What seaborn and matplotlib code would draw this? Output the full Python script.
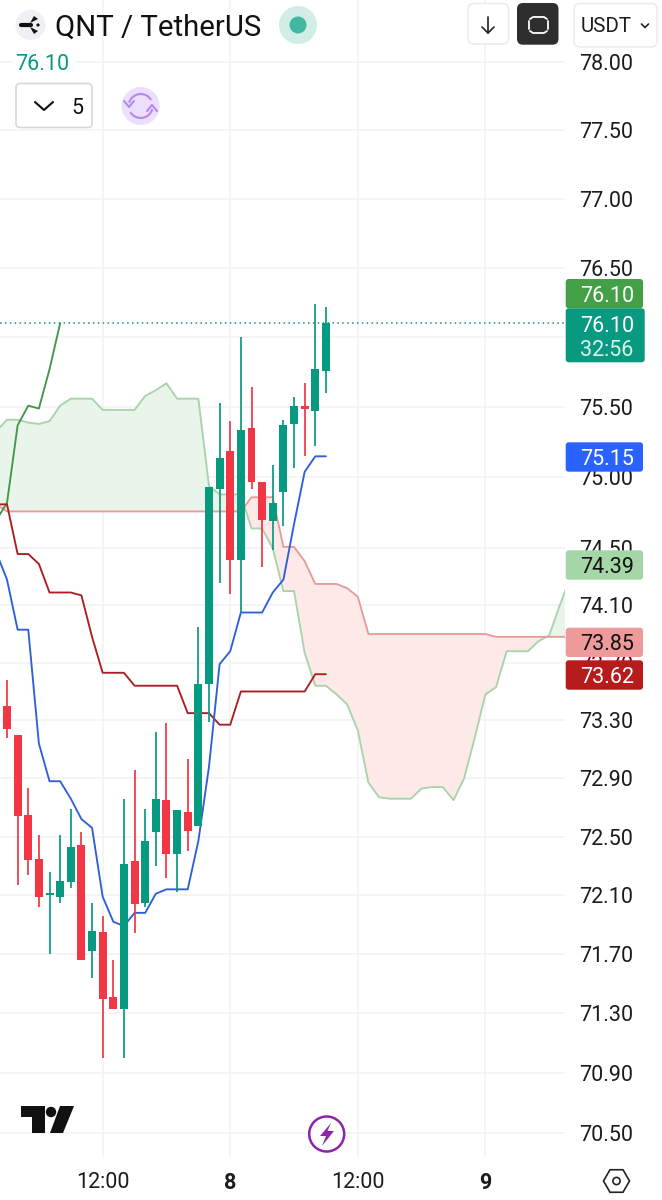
import numpy as np
import pandas as pd
import seaborn as sns
import matplotlib.pyplot as plt
from matplotlib.patches import FancyBboxPatch, Circle, Arc, Polygon, RegularPolygon

# hourly candles, first one sits at index 0
opens = [73.40, 73.20, 72.65, 72.35, 72.10, 72.09, 72.19, 72.44, 71.72, 71.85, 71.41, 71.33, 72.33, 72.05, 72.53, 72.75,
         72.38, 72.67, 72.57, 73.55, 74.92, 75.19, 74.42, 75.35, 74.97, 74.69, 74.90, 75.38, 75.51, 75.47, 75.76]
highs = [73.58, 73.20, 72.83, 72.51, 72.26, 72.51, 72.69, 72.53, 72.05, 71.96, 71.66, 72.76, 72.96, 72.69, 73.22, 73.28,
         72.68, 73.03, 73.95, 74.93, 75.53, 75.40, 76.00, 75.64, 74.97, 75.09, 75.41, 75.57, 75.67, 76.24, 76.22]
lows = [73.18, 72.17, 72.24, 72.02, 71.70, 72.05, 72.15, 71.66, 71.54, 71.00, 71.33, 71.00, 71.84, 72.02, 72.30, 72.22,
        72.12, 72.40, 72.57, 73.29, 74.26, 74.18, 74.05, 74.92, 74.37, 74.49, 74.66, 75.07, 75.15, 75.22, 75.60]
closes = [73.24, 72.64, 72.34, 72.09, 72.11, 72.20, 72.43, 71.66, 71.86, 71.40, 71.33, 72.31, 72.04, 72.47, 72.76, 72.38,
          72.68, 72.54, 73.55, 74.93, 75.14, 74.42, 75.34, 74.97, 74.70, 74.82, 75.37, 75.51, 75.49, 75.77, 76.10]

# ichimoku lines, all start one bar left of the first candle
conversion = [74.47, 74.28, 73.93, 73.93, 73.14, 72.88, 72.88, 72.76, 72.62, 72.56, 72.09, 71.92, 71.89, 71.98, 71.98, 72.11,
              72.14, 72.14, 72.14, 72.47, 72.98, 73.69, 73.78, 74.05, 74.05, 74.05, 74.19, 74.28, 74.67, 75.04, 75.15, 75.15]
base_line = [74.81, 74.81, 74.46, 74.46, 74.39, 74.19, 74.19, 74.19, 74.17, 73.88, 73.63, 73.63, 73.63, 73.54, 73.54, 73.54,
             73.54, 73.54, 73.35, 73.35, 73.35, 73.27, 73.27, 73.50, 73.50, 73.50, 73.50, 73.50, 73.50, 73.50, 73.62, 73.62]
lagging = [74.70, 74.82, 75.37, 75.51, 75.49, 75.77, 76.10]
span_a = [75.33, 75.41, 75.41, 75.39, 75.38, 75.40, 75.51, 75.56, 75.56, 75.56, 75.48, 75.48, 75.48, 75.48, 75.58, 75.62,
          75.67, 75.56, 75.56, 75.56, 74.94, 74.88, 74.88, 74.88, 74.64, 74.64, 74.50, 74.20, 74.20, 73.77, 73.54, 73.54,
          73.48, 73.41, 73.23, 72.87, 72.77, 72.76, 72.76, 72.76, 72.83, 72.84, 72.84, 72.75, 72.90, 73.18, 73.48, 73.53,
          73.78, 73.78, 73.78, 73.85, 73.89, 74.10, 74.30]
span_b = [74.81, 74.76, 74.76, 74.76, 74.76, 74.76, 74.76, 74.76, 74.76, 74.76, 74.76, 74.76, 74.76, 74.76, 74.76, 74.76,
          74.76, 74.76, 74.76, 74.76, 74.76, 74.76, 74.76, 74.76, 74.86, 74.86, 74.86, 74.51, 74.51, 74.41, 74.25, 74.25,
          74.25, 74.22, 74.16, 73.90, 73.90, 73.90, 73.90, 73.90, 73.90, 73.90, 73.90, 73.90, 73.90, 73.90, 73.90, 73.88,
          73.88, 73.88, 73.88, 73.88, 73.88, 73.88, 73.88]

last_price = 76.10
y_ticks = [78.0, 77.5, 77.0, 76.5, 76.0, 75.5, 75.0, 74.5, 74.1, 73.7, 73.3, 72.9, 72.5, 72.1, 71.7, 71.3, 70.9, 70.5]
x_ticks = [9, 21, 33, 45]
x_labels = ["12:00", "8", "12:00", "9"]

UP = "#089981"
DOWN = "#f23645"
GRID = "#f3f3f5"
W, H = 662, 1200

sns.set_theme(style="white")
plt.rcParams["font.family"] = ["Roboto", "DejaVu Sans"]

fig = plt.figure(figsize=(W / 100, H / 100), dpi=100)
ax = fig.add_axes([0, 43 / H, 565 / W, 1157 / H])

candles = pd.DataFrame({"open": opens, "high": highs, "low": lows, "close": closes})
candles["bar"] = candles.index
candles["color"] = np.where(candles["close"] >= candles["open"], UP, DOWN)

# cloud first, so everything else is on top
cloud = pd.DataFrame({"bar": np.arange(len(span_a)) - 1, "a": span_a, "b": span_b})
ax.fill_between(cloud["bar"], cloud["a"], cloud["b"], where=cloud["a"] >= cloud["b"], interpolate=True,
                color="#e9f5ea", lw=0, zorder=1)
ax.fill_between(cloud["bar"], cloud["a"], cloud["b"], where=cloud["a"] <= cloud["b"], interpolate=True,
                color="#fde9e8", lw=0, zorder=1)


def draw_line(values, color, zorder=2.0):
    bars = np.arange(len(values)) - 1
    sns.lineplot(x=bars, y=values, color=color, lw=1.35, estimator=None, sort=False, ax=ax, zorder=zorder)


draw_line(span_a, "#a9d3ab")
draw_line(span_b, "#e99b9b")
draw_line(lagging, "#43964a", 2.2)
draw_line(base_line, "#a91f24", 2.3)
draw_line(conversion, "#2f5fd8", 2.4)

ax.vlines(candles["bar"], candles["low"], candles["high"], colors=candles["color"], lw=1.25, zorder=3)
ax.bar(candles["bar"], (candles["close"] - candles["open"]).abs().clip(lower=0.012),
       bottom=candles[["open", "close"]].min(axis=1), width=0.75, color=candles["color"], lw=0, zorder=4)

ax.axhline(last_price, color=UP, lw=1.1, ls=(0, (1, 2.2)), zorder=2.5)

ax.set_yscale("log")
ax.set_xlim(-0.6585, 52.49)
ax.set_ylim(70.34, 78.458)
ax.yaxis.tick_right()
ax.minorticks_off()
ax.set_yticks(y_ticks)
# 76.00 sits fully under the last price tag, the app does not show it
ax.set_yticklabels(["" if v == 76.0 else "%.2f" % v for v in y_ticks], fontsize=15.5, color="#1c1c1c")
ax.set_xticks(x_ticks)
ax.set_xticklabels(x_labels, fontsize=15.5, color="#1c1c1c")
for lab in ax.get_xticklabels():
    if lab.get_text() in ("8", "9"):
        lab.set_fontweight("bold")
ax.tick_params(axis="y", length=0, pad=10)
ax.tick_params(axis="x", length=0, pad=11)
ax.grid(True, color=GRID, lw=1.2, zorder=0)
ax.set_axisbelow(True)
ax.set_xlabel("")
ax.set_ylabel("")
sns.despine(ax=ax, left=True, bottom=True, right=True, top=True)

# everything the app paints over the chart, in screen pixels
ui = fig.add_axes([0, 0, 1, 1], zorder=5)
ui.set_xlim(0, W)
ui.set_ylim(H, 0)
ui.axis("off")


def box(x0, y0, x1, y1, face, edge="none", lw=0, r=3):
    ui.add_patch(FancyBboxPatch((x0 + r, y0 + r), x1 - x0 - 2 * r, y1 - y0 - 2 * r, boxstyle="round,pad=%g,rounding_size=%g" % (r, r),
                                fc=face, ec=edge, lw=lw))


def label(x, y, s, color="#1c1c1c", size=15.5, ha="center", **kw):
    ui.text(x, y, s, color=color, fontsize=size, ha=ha, va="center_baseline", **kw)


def stroke(xs, ys, color, lw=1.5):
    ui.plot(xs, ys, color=color, lw=lw, solid_capstyle="round", solid_joinstyle="round")


# price tags on the right
tags = [(279, 308.3, 643, "#43a047", "76.10", "white"),
        (442.3, 471.7, 643, "#2962ff", "75.15", "white"),
        (550.3, 579.7, 643, "#a5d6a7", "74.39", "#111111"),
        (627.7, 657, 643, "#ef9a9a", "73.85", "#111111"),
        (660.3, 689.7, 643, "#b71c1c", "73.62", "white")]
for y0, y1, x1, col, txt, tcol in tags:
    box(565.7, y0, x1, y1, col)
    label(607, (y0 + y1) / 2, txt, tcol)
box(565.7, 308.3, 644.7, 362.3, UP)
label(607, 323.5, "76.10", "white")
label(607, 348, "32:56", "#d9f3ec")

# header
ui.add_patch(Circle((30.5, 25), 15, fc="#eef0f6", ec="none"))
stroke([21, 31], [25, 25], "#111111", 3)
ui.add_patch(Polygon([[30, 23], [34, 16], [38, 19]], fc="#111111", ec="none"))
ui.add_patch(Polygon([[30, 27], [34, 34], [38, 31]], fc="#111111", ec="none"))
ui.add_patch(Circle((38, 25), 1.6, fc="#111111", ec="none"))
label(55, 25, "QNT / TetherUS", "#111111", 21.2, ha="left")
ui.add_patch(Circle((298, 25), 19, fc="#d2ece6", ec="none"))
ui.add_patch(Circle((298, 25), 8.5, fc="#40b9a0", ec="none"))

box(468, 3.5, 508.5, 44, "white", "#ececec", 1.2, 6)
stroke([488, 488], [17, 33], "#222222", 1.2)
stroke([482, 488, 494], [27, 33, 27], "#222222", 1.2)
box(517, 3, 558.5, 44.7, "#2e2e2e", r=6)
stroke([529, 529], [21, 29], "white", 1.3)
stroke([548, 548], [21, 29], "white", 1.3)
stroke([530, 533, 544, 547], [19, 17, 17, 19], "white", 1.3)
stroke([530, 533, 544, 547], [31, 33, 33, 31], "white", 1.3)
box(574, 3.5, 657, 47, "white", "#ececec", 1.2, 6)
label(581, 25, "USDT", "#1c1c1c", 14.8, ha="left")
stroke([641.5, 645, 648.5], [24, 27.5, 24], "#222222", 1.2)

box(13, 52, 76, 73, "white")
label(15, 62, "76.10", UP, 15.5, ha="left")
box(16, 83.5, 92, 127.5, "white", "#d8d8d8", 1.2, 4)
stroke([35, 44, 53], [102, 110, 102], "#111111", 1.5)
label(77, 105.5, "5", "#111111", 15.5)
ui.add_patch(Circle((140.7, 106), 19, fc="#ecdffb", ec="none"))
ui.add_patch(Arc((140.7, 106), 24, 24, theta1=195, theta2=330, ec="#b388ee", lw=1.5))
ui.add_patch(Arc((140.7, 106), 24, 24, theta1=15, theta2=150, ec="#b388ee", lw=1.5))
stroke([124, 129, 134], [101, 107, 101], "#b388ee", 1.5)
stroke([147, 152, 157], [111, 105, 111], "#b388ee", 1.5)

# tradingview mark
ui.add_patch(Polygon([[21, 1106], [45, 1106], [45, 1133], [32, 1133], [32, 1117], [21, 1117]], fc="#111111", ec="none"))
ui.add_patch(Circle((51, 1112), 5.2, fc="#111111", ec="none"))
ui.add_patch(Polygon([[60, 1106], [74, 1106], [63, 1133], [50, 1133]], fc="#111111", ec="none"))

# lightning button
ui.add_patch(Circle((326.7, 1134), 17.5, fc="white", ec="#8e24aa", lw=1.8))
ui.add_patch(Polygon([[331, 1123], [320, 1136], [326, 1136], [322, 1146], [334, 1131], [327.5, 1131]], fc="#8e24aa", ec="none"))

# settings hexagon
ui.add_patch(RegularPolygon((616.5, 1181), 6, radius=13, orientation=np.pi / 2, fc="none", ec="#222222", lw=1.2))
ui.add_patch(Circle((616.5, 1181), 3.6, fc="none", ec="#222222", lw=1.2))

fig.savefig("out.png", dpi=100)
